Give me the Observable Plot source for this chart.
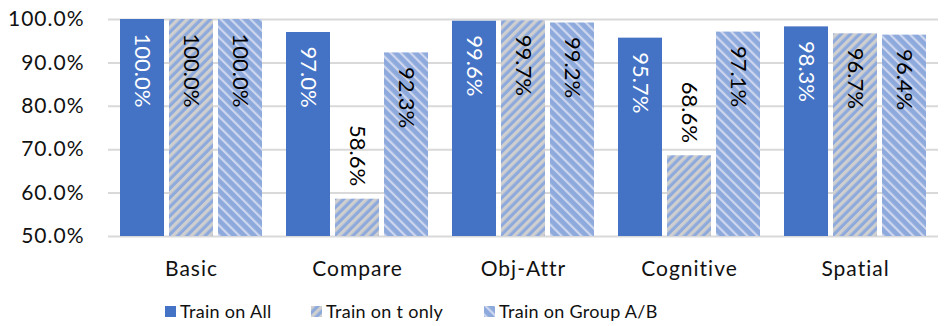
<!DOCTYPE html>
<html>
<head>
<meta charset="utf-8">
<script src="https://cdn.jsdelivr.net/npm/d3@7"></script>
<script src="https://cdn.jsdelivr.net/npm/@observablehq/plot@0.6"></script>
<style>
  html, body { margin: 0; padding: 0; background: #fff; }
  body { width: 947px; height: 326px; overflow: hidden; font-family: Lato, "Open Sans", sans-serif; }
  #legend { position: relative; height: 34px; font-size: 18px; color: #111; }
  .item { position: absolute; top: 8px; display: flex; align-items: center; white-space: nowrap; letter-spacing: 0.3px; }
  .item svg { margin-right: 4px; }
  #chart svg [aria-label="fx-axis tick label"] text,
  #chart svg [aria-label="y-axis tick label"] text { letter-spacing: 1px; }
</style>
</head>
<body>
<svg width="0" height="0" style="position:absolute">
  <defs>
    <pattern id="patT" patternUnits="userSpaceOnUse" width="6.5" height="6.5" patternTransform="rotate(45)">
      <rect width="6.5" height="6.5" fill="#8eaadc"></rect>
      <rect width="3.3" height="6.5" fill="#cfcfcf"></rect>
    </pattern>
    <pattern id="patG" patternUnits="userSpaceOnUse" width="7" height="7" patternTransform="rotate(-45)">
      <rect width="7" height="7" fill="#8eaadc"></rect>
      <rect width="2.2" height="7" fill="#cdd6ee"></rect>
    </pattern>
  </defs>
</svg>
<div id="chart"></div>
<div id="legend"></div>
<script>
const categories = ["Basic", "Compare", "Obj-Attr", "Cognitive", "Spatial"];
const series = ["Train on All", "Train on t only", "Train on Group A/B"];
const trainAll = [100.0, 97.0, 99.6, 95.7, 98.3];
const trainTOnly = [100.0, 58.6, 99.7, 68.6, 96.7];
const trainGroupAB = [100.0, 92.3, 99.2, 97.1, 96.4];
const yTicks = [50, 60, 70, 80, 90, 100];

const fills = ["#4472c4", "url(#patT)", "url(#patG)"];
const textFills = ["#ffffff", "#000000", "#000000"];
const valuesBySeries = [trainAll, trainTOnly, trainGroupAB];

const rows = [];
series.forEach((s, si) => {
  categories.forEach((c, ci) => {
    rows.push({category: c, series: s, si, value: valuesBySeries[si][ci]});
  });
});

const fmt = v => v.toFixed(1) + "%";
const inside = d => d.value >= 80;

const marks = [
  Plot.ruleY(yTicks, {stroke: "#d9d9d9", strokeWidth: 2}),
  ...series.map((s, si) =>
    Plot.barY(rows.filter(d => d.si === si), {fx: "category", x: "series", y1: 50, y2: "value", fill: fills[si]})
  ),
  ...series.map((s, si) =>
    Plot.text(rows.filter(d => d.si === si && inside(d)), {
      fx: "category", x: "series", y: "value", text: d => fmt(d.value),
      rotate: 90, textAnchor: "start", lineAnchor: "middle", dy: 14,
      fill: textFills[si], fontSize: 22
    })
  ),
  ...series.map((s, si) =>
    Plot.text(rows.filter(d => d.si === si && !inside(d)), {
      fx: "category", x: "series", y: "value", text: d => fmt(d.value),
      rotate: 90, textAnchor: "end", lineAnchor: "middle", dy: -13,
      fill: "#000000", fontSize: 22
    })
  )
];

const chart = Plot.plot({
  width: 947,
  height: 292,
  marginLeft: 106,
  marginRight: 7,
  marginTop: 19,
  marginBottom: 56,
  style: {fontFamily: "Lato, 'Open Sans', sans-serif", fontSize: "21px", color: "#111", background: "#fff"},
  fx: {domain: categories, padding: 0, label: null, axis: "bottom", tickSize: 0, tickPadding: 25},
  x: {domain: series, axis: null, paddingInner: 0.1, paddingOuter: 0.24},
  y: {domain: [50, 100], ticks: yTicks, tickFormat: d => d.toFixed(1) + "%", tickSize: 0, tickPadding: 24, label: null},
  marks
});
document.getElementById("chart").appendChild(chart);

const legend = document.getElementById("legend");
const lx = [165, 311, 484];
series.forEach((s, si) => {
  const item = document.createElement("div");
  item.className = "item";
  item.style.left = lx[si] + "px";
  item.innerHTML = `<svg width="11" height="11"><rect width="11" height="11" fill="${fills[si]}"></rect></svg><span>${s}</span>`;
  legend.appendChild(item);
});
</script>
</body>
</html>
